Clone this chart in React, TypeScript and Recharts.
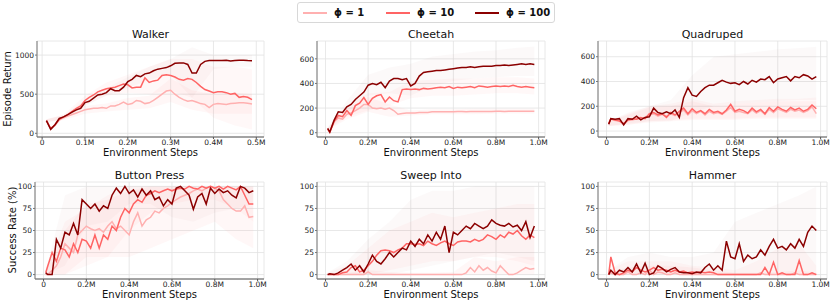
import { ComposedChart, Line, Area, XAxis, YAxis, CartesianGrid } from 'recharts';

const C1 = '#ffb0b0';
const C10 = '#ff6464';
const C100 = '#8b0000';
const colors = [C1, C10, C100];
const legendLabels = ['ϕ = 1', 'ϕ = 10', 'ϕ = 100'];
const FONT = "'DejaVu Sans', sans-serif";

// ---- Walker (0 .. 0.5M)
const walkerSteps = [0.01, 0.02, 0.03, 0.04, 0.05, 0.06, 0.07, 0.08, 0.09, 0.1, 0.11, 0.12, 0.13, 0.14, 0.15, 0.16, 0.17, 0.18, 0.19, 0.2, 0.21, 0.22, 0.23, 0.24, 0.25, 0.26, 0.27, 0.28, 0.29, 0.3, 0.31, 0.32, 0.33, 0.34, 0.35, 0.36, 0.37, 0.38, 0.39, 0.4, 0.41, 0.42, 0.43, 0.44, 0.45, 0.46, 0.47, 0.48, 0.49];
const walkerPhi1 = [162, 60, 100, 170, 200, 220, 240, 260, 280, 300, 310, 320, 320, 330, 320, 350, 350, 370, 400, 370, 380, 420, 410, 380, 390, 420, 460, 500, 540, 550, 500, 460, 430, 410, 420, 400, 380, 370, 330, 370, 380, 375, 370, 380, 385, 390, 390, 385, 375];
const walkerPhi10 = [162, 60, 110, 180, 210, 240, 280, 320, 350, 420, 460, 490, 530, 550, 570, 580, 590, 610, 630, 620, 580, 590, 590, 710, 650, 670, 680, 740, 750, 740, 720, 690, 680, 700, 690, 650, 600, 560, 540, 520, 530, 530, 520, 500, 510, 460, 470, 460, 430];
const walkerPhi100 = [162, 51, 110, 190, 210, 240, 270, 300, 320, 393, 410, 450, 490, 500, 520, 570, 545, 545, 590, 660, 690, 740, 725, 760, 770, 800, 820, 830, 840, 863, 895, 900, 900, 880, 770, 770, 880, 920, 930, 930, 930, 930, 935, 925, 930, 935, 935, 930, 928];
const walkerBandSteps = [0.01, 0.05, 0.1, 0.15, 0.2, 0.25, 0.3, 0.35, 0.4, 0.45, 0.49];
const walkerBand1Lo = [140, 170, 250, 280, 300, 320, 400, 300, 250, 250, 250];
const walkerBand1Hi = [180, 230, 350, 380, 450, 480, 700, 550, 500, 520, 500];
const walkerBand10Lo = [140, 180, 360, 480, 520, 500, 550, 450, 200, 100, 50];
const walkerBand10Hi = [180, 240, 480, 650, 750, 850, 950, 950, 850, 850, 820];
const walkerBand100Lo = [140, 180, 350, 480, 580, 680, 750, 450, 820, 850, 850];
const walkerBand100Hi = [180, 230, 430, 580, 720, 850, 950, 1100, 1000, 1000, 1000];

// ---- shared steps for the 1M panels
const steps = [0.01, 0.02, 0.04, 0.06, 0.08, 0.1, 0.12, 0.14, 0.16, 0.18, 0.2, 0.22, 0.24, 0.26, 0.28, 0.3, 0.32, 0.34, 0.36, 0.38, 0.4, 0.42, 0.44, 0.46, 0.48, 0.5, 0.52, 0.54, 0.56, 0.58, 0.6, 0.62, 0.64, 0.66, 0.68, 0.7, 0.72, 0.74, 0.76, 0.78, 0.8, 0.82, 0.84, 0.86, 0.88, 0.9, 0.92, 0.94, 0.96, 0.98];
const bandSteps = [0.01, 0.1, 0.2, 0.3, 0.4, 0.5, 0.6, 0.7, 0.8, 0.9, 0.98];

// ---- Cheetah
const cheetahPhi1 = [30, 5, 90, 120, 110, 150, 160, 180, 200, 230, 230, 200, 195, 200, 190, 200, 180, 150, 155, 160, 160, 160, 165, 165, 165, 170, 170, 170, 170, 170, 170, 172, 172, 170, 172, 172, 173, 173, 172, 173, 174, 174, 173, 174, 175, 175, 174, 175, 175, 175];
const cheetahPhi10 = [30, 5, 90, 140, 130, 180, 140, 220, 240, 285, 230, 280, 300, 310, 250, 290, 260, 250, 350, 355, 350, 355, 350, 360, 355, 360, 365, 370, 365, 375, 360, 370, 365, 370, 375, 365, 380, 375, 370, 375, 380, 375, 380, 375, 385, 375, 370, 375, 370, 365];
const cheetahPhi100 = [35, 5, 100, 170, 165, 210, 230, 270, 300, 330, 386, 400, 390, 410, 365, 420, 440, 440, 430, 440, 380, 400, 460, 490, 495, 500, 505, 505, 510, 515, 520, 525, 530, 530, 535, 530, 535, 540, 540, 540, 545, 545, 550, 545, 550, 555, 560, 555, 560, 555];
const cheetahBand1Lo = [20, 110, 170, 130, 140, 150, 150, 150, 155, 155, 155];
const cheetahBand1Hi = [40, 190, 290, 230, 180, 190, 190, 195, 195, 195, 195];
const cheetahBand10Lo = [20, 130, 180, 220, 280, 300, 300, 310, 320, 320, 310];
const cheetahBand10Hi = [40, 220, 320, 330, 420, 430, 440, 440, 450, 450, 440];
const cheetahBand100Lo = [20, 150, 300, 320, 300, 380, 420, 440, 450, 460, 460];
const cheetahBand100Hi = [40, 260, 470, 530, 560, 620, 640, 660, 670, 690, 700];

// ---- Quadruped
const quadPhi1 = [55, 95, 85, 85, 55, 85, 90, 100, 100, 110, 130, 140, 120, 135, 120, 140, 125, 150, 170, 130, 165, 140, 160, 130, 160, 140, 150, 135, 160, 190, 150, 160, 150, 140, 170, 145, 165, 135, 175, 150, 180, 165, 150, 175, 160, 170, 150, 165, 195, 140];
const quadPhi10 = [60, 100, 90, 80, 60, 90, 100, 95, 110, 100, 140, 150, 130, 140, 110, 150, 130, 160, 185, 140, 180, 150, 165, 140, 175, 150, 160, 140, 170, 215, 160, 175, 165, 145, 185, 155, 175, 140, 190, 160, 195, 175, 160, 190, 170, 185, 160, 175, 210, 180];
const quadPhi100 = [55, 100, 95, 100, 50, 100, 95, 120, 90, 110, 115, 185, 150, 140, 155, 140, 170, 110, 270, 350, 290, 280, 320, 350, 370, 370, 390, 410, 395, 385, 390, 375, 400, 380, 410, 395, 420, 415, 440, 390, 420, 430, 440, 405, 440, 430, 455, 445, 420, 440];
const quadBand1Lo = [40, 50, 70, 80, 90, 90, 90, 100, 100, 100, 100];
const quadBand1Hi = [80, 130, 190, 200, 240, 200, 220, 230, 240, 240, 240];
const quadBand10Lo = [40, 50, 80, 90, 100, 100, 100, 110, 110, 110, 110];
const quadBand10Hi = [80, 140, 200, 220, 260, 220, 240, 250, 260, 260, 270];
const quadBand100Lo = [40, 60, 80, 80, 150, 200, 220, 230, 240, 250, 250];
const quadBand100Hi = [80, 150, 200, 250, 450, 600, 620, 640, 660, 670, 680];

// ---- Button Press
const buttonPhi1 = [0, 0, 5, 10, 20, 35, 30, 25, 45, 50, 55, 52, 50, 52, 48, 55, 60, 52, 55, 50, 45, 60, 70, 55, 62, 65, 72, 70, 75, 78, 82, 85, 88, 90, 92, 95, 97, 95, 98, 100, 98, 95, 85, 80, 75, 72, 72, 78, 65, 66];
const buttonPhi10 = [2, 10, 25, 15, 30, 28, 20, 35, 25, 40, 38, 30, 45, 30, 45, 40, 55, 50, 65, 75, 70, 80, 85, 82, 90, 92, 95, 93, 95, 97, 95, 97, 98, 97, 100, 98, 97, 100, 98, 100, 98, 100, 97, 100, 98, 96, 100, 90, 80, 80];
const buttonPhi100 = [2, 0, 0, 40, 30, 48, 45, 58, 45, 85, 80, 75, 80, 72, 78, 75, 90, 98, 92, 100, 92, 96, 88, 97, 90, 95, 85, 88, 78, 85, 80, 98, 100, 95, 90, 74, 88, 92, 80, 98, 92, 97, 93, 95, 90, 87, 100, 98, 93, 95];
const buttonBand1Lo = [0, 0, 20, 20, 20, 30, 40, 50, 60, 40, 30];
const buttonBand1Hi = [5, 50, 80, 85, 95, 100, 100, 100, 100, 100, 100];
const buttonBand10Lo = [0, 0, 10, 20, 50, 70, 80, 85, 85, 75, 60];
const buttonBand10Hi = [5, 60, 75, 90, 100, 100, 100, 100, 100, 100, 100];
const buttonBand100Lo = [0, 10, 55, 60, 80, 80, 65, 60, 70, 75, 80];
const buttonBand100Hi = [5, 90, 100, 100, 100, 100, 100, 100, 100, 100, 100];

// ---- Sweep Into
const sweepPhi1 = [0, 0, 0, 0, 0, 0, 0, 0, 0, 0, 3, 0, 0, 0, 0, 0, 0, 0, 0, 0, 0, 0, 0, 0, 0, 0, 0, 0, 0, 0, 0, 0, 0, 2, 8, 3, 10, 5, 8, 4, 2, 10, 5, 0, 0, 2, 5, 8, 6, 7];
const sweepPhi10 = [0, 0, 0, 0, 2, 3, 8, 10, 3, 5, 10, 15, 22, 27, 28, 27, 25, 28, 30, 35, 35, 34, 35, 33, 38, 35, 33, 36, 38, 35, 33, 37, 38, 38, 37, 40, 38, 40, 45, 43, 40, 45, 42, 48, 46, 50, 44, 40, 45, 42];
const sweepPhi100 = [0, 1, 0, 2, 5, 8, 12, 5, 10, 3, 12, 22, 15, 12, 18, 25, 20, 25, 30, 28, 38, 32, 40, 35, 45, 38, 48, 40, 55, 25, 48, 45, 50, 55, 52, 58, 55, 52, 55, 62, 58, 56, 55, 58, 54, 56, 50, 60, 42, 55];
const sweepBand1Lo = [0, 0, 0, 0, 0, 0, 0, 0, 0, 0, 0];
const sweepBand1Hi = [0, 2, 5, 3, 2, 2, 3, 20, 15, 20, 20];
const sweepBand10Lo = [0, 0, 0, 5, 10, 15, 15, 20, 20, 15, 10];
const sweepBand10Hi = [2, 10, 30, 50, 60, 70, 65, 70, 75, 80, 80];
const sweepBand100Lo = [0, 0, 0, 0, 5, 10, 15, 20, 25, 20, 15];
const sweepBand100Hi = [2, 15, 40, 60, 85, 95, 95, 100, 100, 100, 100];

// ---- Hammer
const hammerPhi1 = [0, 2, 0, 0, 0, 3, 0, 0, 2, 0, 5, 0, 3, 2, 0, 0, 2, 0, 0, 0, 0, 0, 0, 0, 0, 0, 0, 0, 0, 0, 0, 0, 0, 0, 0, 0, 2, 0, 0, 0, 0, 0, 0, 0, 2, 0, 0, 0, 0, 0];
const hammerPhi10 = [0, 20, 2, 0, 2, 5, 3, 8, 5, 3, 5, 8, 5, 6, 5, 3, 5, 3, 4, 2, 3, 2, 3, 2, 3, 2, 0, 0, 0, 0, 0, 0, 0, 0, 0, 0, 0, 8, 0, 14, 0, 2, 0, 0, 0, 16, 0, 0, 2, 0];
const hammerPhi100 = [0, 5, 0, 5, 3, 8, 3, 12, 2, 13, 0, 2, 10, 7, 3, 6, 8, 3, 2, 2, 1, 3, 2, 8, 12, 5, 10, 5, 38, 20, 18, 35, 15, 22, 18, 20, 28, 22, 32, 40, 30, 32, 28, 35, 30, 40, 32, 48, 55, 50];
const hammerBand1Lo = [0, 0, 0, 0, 0, 0, 0, 0, 0, 0, 0];
const hammerBand1Hi = [2, 8, 10, 10, 8, 5, 2, 2, 3, 5, 2];
const hammerBand10Lo = [0, 0, 0, 0, 0, 0, 0, 0, 0, 0, 0];
const hammerBand10Hi = [5, 15, 15, 15, 10, 8, 5, 15, 30, 35, 10];
const hammerBand100Lo = [0, 0, 0, 0, 0, 0, 0, 0, 0, 0, 0];
const hammerBand100Hi = [5, 20, 25, 20, 20, 25, 60, 70, 80, 90, 100];

// ---- axis ticks
const walkerXTicks = [0, 0.1, 0.2, 0.3, 0.4, 0.5];
const xTicks = [0, 0.2, 0.4, 0.6, 0.8, 1.0];
const walkerYTicks = [0, 500, 1000];
const returnYTicks = [0, 200, 400, 600];
const successYTicks = [0, 25, 50, 75, 100];

const bandOpacity = [0.1, 0.045, 0.025];

const fmtX = (v: number) => (v === 0 ? '0' : `${v.toFixed(1)}M`);

type PanelProps = {
  title: string;
  left: number;
  right: number;
  top: number;
  bottom: number;
  yW: number;
  xDomain: number[];
  xTicksArr: number[];
  yDomain: number[];
  yTicksArr: number[];
  xs: number[];
  lines: number[][];
  bxs: number[];
  bands: number[][][];
};

function Panel(p: PanelProps) {
  const plotW = p.right - p.left;
  const plotH = p.bottom - p.top;
  const mt = 6;
  const mr = 14;
  const xh = 22;
  const lineData = p.lines.map((vals) => p.xs.map((x, i) => ({ x, y: vals[i] })));
  const bandData = p.bands.map(([lo, hi]) => p.bxs.map((x, i) => ({ x, range: [lo[i], hi[i]] })));
  const tick = { fontSize: 7.5, fill: '#222', fontFamily: FONT };
  return (
    <>
      <div
        style={{
          position: 'absolute', left: p.left, width: plotW, top: p.top - 13, lineHeight: '14px',
          textAlign: 'center', fontSize: 11, color: '#111',
        }}
      >
        {p.title}
      </div>
      <div style={{ position: 'absolute', left: p.left - p.yW, top: p.top - mt }}>
        <ComposedChart
          width={p.yW + plotW + mr}
          height={mt + plotH + xh}
          margin={{ top: mt, right: mr, bottom: 0, left: 0 }}
        >
          <CartesianGrid stroke="#e2e2e2" strokeWidth={0.8} />
          <XAxis
            type="number"
            dataKey="x"
            domain={p.xDomain}
            ticks={p.xTicksArr}
            interval={0}
            allowDataOverflow
            tickFormatter={fmtX}
            tick={tick}
            tickSize={2}
            tickMargin={1}
            height={xh}
            stroke="#555"
          />
          <YAxis
            type="number"
            domain={p.yDomain}
            ticks={p.yTicksArr}
            interval={0}
            allowDataOverflow
            tick={tick}
            tickSize={2}
            tickMargin={1}
            width={p.yW}
            stroke="#777"
          />
          {bandData.map((d, i) => (
            <Area
              key={`b${i}`}
              data={d}
              dataKey="range"
              type="linear"
              stroke="none"
              fill={colors[i]}
              fillOpacity={bandOpacity[i]}
              isAnimationActive={false}
            />
          ))}
          {lineData.map((d, i) => (
            <Line
              key={`l${i}`}
              data={d}
              dataKey="y"
              type="linear"
              dot={false}
              stroke={colors[i]}
              strokeWidth={1.5}
              isAnimationActive={false}
            />
          ))}
        </ComposedChart>
      </div>
      <div
        style={{
          position: 'absolute', left: p.left, width: plotW, top: p.bottom + 10, lineHeight: '12px',
          textAlign: 'center', fontSize: 10, color: '#111',
        }}
      >
        Environment Steps
      </div>
    </>
  );
}

function Legend() {
  const itemX = [303, 386, 475];
  return (
    <div
      style={{
        position: 'absolute', left: 297, top: 2, width: 256, height: 19,
        border: '1px solid #d8d8d8', borderRadius: 3, background: '#fff',
      }}
    >
      {legendLabels.map((lab, i) => (
        <div key={lab}>
          <div
            style={{
              position: 'absolute', left: itemX[i] - 298, top: 9, width: 24, height: 1.5,
              background: colors[i],
            }}
          />
          <div
            style={{
              position: 'absolute', left: itemX[i] - 298 + 31, top: 3, lineHeight: '13px',
              fontSize: 10, fontWeight: 'bold', color: '#111', whiteSpace: 'nowrap',
            }}
          >
            {lab}
          </div>
        </div>
      ))}
    </div>
  );
}

export default function App() {
  const topRow = { top: 41, bottom: 137 };
  const botRow = { top: 182, bottom: 279 };
  const xDom = [-0.04, 1.03];
  const sDom = [-5, 105];
  return (
    <div
      style={{
        position: 'absolute', left: 0, top: 0, width: 831, height: 303, overflow: 'hidden',
        background: '#fff', fontFamily: FONT,
      }}
    >
      <Legend />
      <Panel
        title="Walker" left={37} right={264} {...topRow} yW={37}
        xDomain={[-0.012, 0.518]} xTicksArr={walkerXTicks} yDomain={[-47, 1180]} yTicksArr={walkerYTicks}
        xs={walkerSteps} lines={[walkerPhi1, walkerPhi10, walkerPhi100]} bxs={walkerBandSteps}
        bands={[[walkerBand1Lo, walkerBand1Hi], [walkerBand10Lo, walkerBand10Hi], [walkerBand100Lo, walkerBand100Hi]]}
      />
      <Panel
        title="Cheetah" left={317} right={545} {...topRow} yW={30}
        xDomain={xDom} xTicksArr={xTicks} yDomain={[-35, 745]} yTicksArr={returnYTicks}
        xs={steps} lines={[cheetahPhi1, cheetahPhi10, cheetahPhi100]} bxs={bandSteps}
        bands={[[cheetahBand1Lo, cheetahBand1Hi], [cheetahBand10Lo, cheetahBand10Hi], [cheetahBand100Lo, cheetahBand100Hi]]}
      />
      <Panel
        title="Quadruped" left={598} right={827} {...topRow} yW={30}
        xDomain={xDom} xTicksArr={xTicks} yDomain={[-48, 727]} yTicksArr={returnYTicks}
        xs={steps} lines={[quadPhi1, quadPhi10, quadPhi100]} bxs={bandSteps}
        bands={[[quadBand1Lo, quadBand1Hi], [quadBand10Lo, quadBand10Hi], [quadBand100Lo, quadBand100Hi]]}
      />
      <Panel
        title="Button Press" left={35} right={264} {...botRow} yW={30}
        xDomain={xDom} xTicksArr={xTicks} yDomain={sDom} yTicksArr={successYTicks}
        xs={steps} lines={[buttonPhi1, buttonPhi10, buttonPhi100]} bxs={bandSteps}
        bands={[[buttonBand1Lo, buttonBand1Hi], [buttonBand10Lo, buttonBand10Hi], [buttonBand100Lo, buttonBand100Hi]]}
      />
      <Panel
        title="Sweep Into" left={317} right={545} {...botRow} yW={30}
        xDomain={xDom} xTicksArr={xTicks} yDomain={sDom} yTicksArr={successYTicks}
        xs={steps} lines={[sweepPhi1, sweepPhi10, sweepPhi100]} bxs={bandSteps}
        bands={[[sweepBand1Lo, sweepBand1Hi], [sweepBand10Lo, sweepBand10Hi], [sweepBand100Lo, sweepBand100Hi]]}
      />
      <Panel
        title="Hammer" left={598} right={827} {...botRow} yW={30}
        xDomain={xDom} xTicksArr={xTicks} yDomain={sDom} yTicksArr={successYTicks}
        xs={steps} lines={[hammerPhi1, hammerPhi10, hammerPhi100]} bxs={bandSteps}
        bands={[[hammerBand1Lo, hammerBand1Hi], [hammerBand10Lo, hammerBand10Hi], [hammerBand100Lo, hammerBand100Hi]]}
      />
      <div
        style={{
          position: 'absolute', left: 7, top: 89, transform: 'translate(-50%, -50%) rotate(-90deg)',
          fontSize: 10, whiteSpace: 'nowrap', color: '#111',
        }}
      >
        Episode Return
      </div>
      <div
        style={{
          position: 'absolute', left: 12, top: 230, transform: 'translate(-50%, -50%) rotate(-90deg)',
          fontSize: 10, whiteSpace: 'nowrap', color: '#111',
        }}
      >
        Success Rate (%)
      </div>
    </div>
  );
}
